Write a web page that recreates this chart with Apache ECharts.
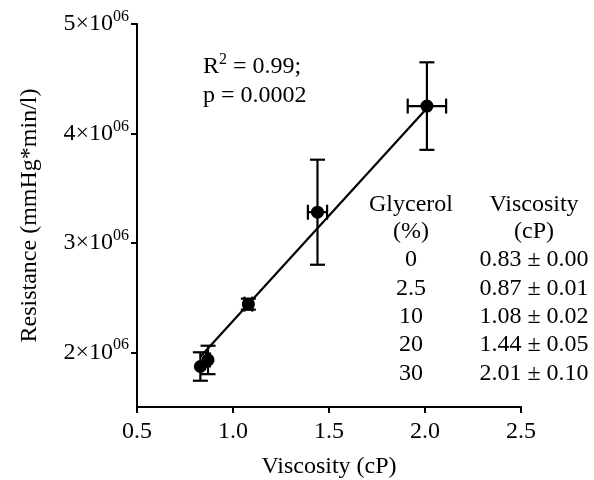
<!DOCTYPE html>
<html>
<head>
<meta charset="utf-8">
<script src="https://cdn.jsdelivr.net/npm/echarts@6/dist/echarts.min.js"></script>
<style>
html,body{margin:0;padding:0;background:#fff;}
#chart{width:594px;height:480px;}
</style>
</head>
<body>
<div id="chart"></div>
<script>
// ---- data ----
const glycerol = ['0', '2.5', '10', '20', '30'];           // glycerol (%)
const viscosity = [0.83, 0.87, 1.08, 1.44, 2.01];           // cP (mean)
const viscositySD = [0.00, 0.01, 0.02, 0.05, 0.10];         // cP (sd)
const resistance = [1.87e6, 1.93e6, 2.44e6, 3.28e6, 4.25e6];    // mmHg*min/l
const resistanceSD = [0.13e6, 0.13e6, 0.05e6, 0.48e6, 0.40e6];
const fitX = [0.83, 2.01];
const fitY = [1.96e6, 4.23e6];
const yTicks = [2e6, 3e6, 4e6, 5e6];
const xTicks = [0.5, 1.0, 1.5, 2.0, 2.5];
const rSquared = '0.99';
const pValue = '0.0002';

const FONT = '"Liberation Serif", "Times New Roman", serif';
const chart = echarts.init(document.getElementById('chart'));

const errData = viscosity.map((v, i) => [v, resistance[i], viscositySD[i], resistanceSD[i]]);

function renderErr(params, api) {
  const x = api.value(0), y = api.value(1), xe = api.value(2), ye = api.value(3);
  const top = api.coord([x, y + ye]);
  const bot = api.coord([x, y - ye]);
  const lft = api.coord([x - xe, y]);
  const rgt = api.coord([x + xe, y]);
  const cap = 7.5;
  const st = { stroke: '#000', lineWidth: 2.2 };
  const lines = [
    [top[0], top[1], bot[0], bot[1]],
    [top[0] - cap, top[1], top[0] + cap, top[1]],
    [bot[0] - cap, bot[1], bot[0] + cap, bot[1]]
  ];
  if (xe > 0) {
    lines.push([lft[0], lft[1], rgt[0], rgt[1]]);
    lines.push([lft[0], lft[1] - cap, lft[0], lft[1] + cap]);
    lines.push([rgt[0], rgt[1] - cap, rgt[0], rgt[1] + cap]);
  }
  return {
    type: 'group',
    children: lines.map(l => ({ type: 'line', shape: { x1: l[0], y1: l[1], x2: l[2], y2: l[3] }, style: st }))
  };
}

const graphics = [];
graphics.push({ type: 'text', x: 203, y: 67,
  style: { text: '{a|R}{s|2}{a| = ' + rSquared + ';}', fill: '#000', align: 'left', verticalAlign: 'middle',
    rich: {
      a: { fontFamily: FONT, fontSize: 24, fill: '#000', lineHeight: 30 },
      s: { fontFamily: FONT, fontSize: 16, fill: '#000', lineHeight: 22, verticalAlign: 'top' }
    } } });
graphics.push({ type: 'text', x: 203, y: 96,
  style: { text: 'p = ' + pValue, font: '24px ' + FONT, fill: '#000', align: 'left', verticalAlign: 'middle' } });

const colG = 411, colV = 534;
[['Glycerol', 'Viscosity'], ['(%)', '(cP)']].forEach((row, i) => {
  graphics.push({ type: 'text', x: colG, y: 205 + i * 27,
    style: { text: row[0], font: '24px ' + FONT, fill: '#000', align: 'center', verticalAlign: 'middle' } });
  graphics.push({ type: 'text', x: colV, y: 205 + i * 27,
    style: { text: row[1], font: '24px ' + FONT, fill: '#000', align: 'center', verticalAlign: 'middle' } });
});
glycerol.forEach((g, i) => {
  const y = 260 + i * 28.4;
  graphics.push({ type: 'text', x: colG, y: y,
    style: { text: g, font: '24px ' + FONT, fill: '#000', align: 'center', verticalAlign: 'middle' } });
  graphics.push({ type: 'text', x: colV, y: y,
    style: { text: viscosity[i].toFixed(2) + ' \u00B1 ' + viscositySD[i].toFixed(2), font: '24px ' + FONT, fill: '#000', align: 'center', verticalAlign: 'middle' } });
});

chart.setOption({
  animation: false,
  backgroundColor: '#fff',
  grid: { left: 137, right: 73, top: 24, bottom: 73, containLabel: false, outerBoundsMode: 'none' },
  xAxis: {
    type: 'value', min: 0.5, max: 2.5, interval: 0.5,
    name: 'Viscosity (cP)', nameLocation: 'middle', nameGap: 48,
    nameTextStyle: { fontFamily: FONT, fontSize: 24, color: '#000' },
    axisLine: { show: true, onZero: false, lineStyle: { color: '#000', width: 2 } },
    axisTick: { show: true, length: 6, lineStyle: { color: '#000', width: 2 } },
    axisLabel: { fontFamily: FONT, fontSize: 24, color: '#000', margin: 13,
      customValues: xTicks, formatter: v => v.toFixed(1) },
    splitLine: { show: false }
  },
  yAxis: {
    type: 'value', min: 1.5e6, max: 5e6,
    name: 'Resistance (mmHg*min/l)', nameLocation: 'middle', nameGap: 95,
    nameTextStyle: { fontFamily: FONT, fontSize: 24, color: '#000' },
    axisLine: { show: true, onZero: false, lineStyle: { color: '#000', width: 2 } },
    axisTick: { show: true, length: 6, lineStyle: { color: '#000', width: 2 }, customValues: yTicks },
    axisLabel: {
      margin: 8, color: '#000', customValues: yTicks,
      formatter: v => '{a|' + Math.round(v / 1e6) + '\u00D710}{s|06}',
      rich: {
        a: { fontFamily: FONT, fontSize: 24, color: '#000', lineHeight: 30 },
        s: { fontFamily: FONT, fontSize: 16, color: '#000', lineHeight: 16, verticalAlign: 'top' }
      }
    },
    splitLine: { show: false }
  },
  series: [
    {
      type: 'line', data: fitX.map((x, i) => [x, fitY[i]]), symbol: 'none',
      lineStyle: { color: '#000', width: 2.2 }, z: 2, silent: true
    },
    {
      type: 'custom', data: errData, renderItem: renderErr, encode: { x: 0, y: 1 }, z: 3, silent: true
    },
    {
      type: 'scatter', data: viscosity.map((v, i) => [v, resistance[i]]), symbol: 'circle', symbolSize: 13,
      itemStyle: { color: '#000', opacity: 1 }, z: 4, silent: true
    }
  ],
  graphic: graphics
});
</script>
</body>
</html>
